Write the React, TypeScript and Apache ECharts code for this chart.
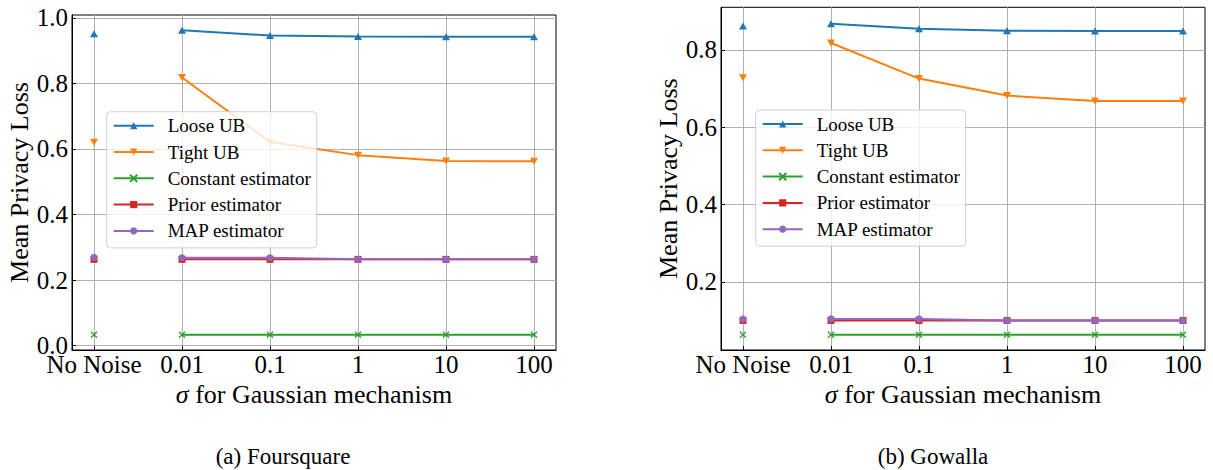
import React, { useEffect, useRef } from "react";
import * as echarts from "echarts";

const categories = ["No Noise", "0.01", "0.1", "1", "10", "100"];
const seriesNames = ["Loose UB", "Tight UB", "Constant estimator", "Prior estimator", "MAP estimator"];

// (a) Foursquare
const fsLoose = [0.951, 0.962, 0.946, 0.943, 0.942, 0.942];
const fsTight = [0.62, 0.818, 0.621, 0.581, 0.563, 0.562];
const fsConst = [0.033, 0.033, 0.033, 0.033, 0.033, 0.033];
const fsPrior = [0.263, 0.263, 0.263, 0.263, 0.263, 0.263];
const fsMap = [0.269, 0.268, 0.268, 0.263, 0.263, 0.263];

// (b) Gowalla
const gwLoose = [0.862, 0.868, 0.855, 0.85, 0.849, 0.849];
const gwTight = [0.728, 0.818, 0.726, 0.682, 0.668, 0.668];
const gwConst = [0.063, 0.063, 0.063, 0.063, 0.063, 0.063];
const gwPrior = [0.1, 0.1, 0.1, 0.1, 0.1, 0.1];
const gwMap = [0.1035, 0.104, 0.104, 0.1, 0.1, 0.1];

const fsYTicks = [0, 0.2, 0.4, 0.6, 0.8, 1.0];
const gwYTicks = [0.2, 0.4, 0.6, 0.8];

const captions = ["(a) Foursquare", "(b) Gowalla"];

const colors = ["#1f77b4", "#ff7f0e", "#2ca02c", "#d62728", "#9467bd"];
const FONT = "Liberation Serif";

function toData(vals: number[]) {
  const out: any[] = [];
  vals.forEach((v, i) => {
    out.push([i, v]);
    if (i === 0) out.push([0.5, "-"]);
  });
  return out;
}

const markers: any[] = [
  { symbol: "triangle", symbolSize: [8, 7], symbolRotate: 0 },
  { symbol: "triangle", symbolSize: [8, 7], symbolRotate: 180 },
  { symbol: "path://M0,0L10,10M10,0L0,10", symbolSize: 6, symbolRotate: 0 },
  { symbol: "rect", symbolSize: 7, symbolRotate: 0 },
  { symbol: "circle", symbolSize: 7, symbolRotate: 0 },
];

function makeSeries(g: number, sets: number[][]) {
  return sets.map((vals, k) => ({
    type: "line",
    name: seriesNames[k],
    xAxisIndex: g,
    yAxisIndex: g,
    data: toData(vals),
    connectNulls: false,
    showAllSymbol: true,
    symbol: markers[k].symbol,
    symbolSize: markers[k].symbolSize,
    symbolRotate: markers[k].symbolRotate,
    lineStyle: { color: colors[k], width: 2 },
    itemStyle:
      k === 2
        ? { color: colors[k], borderColor: colors[k], borderWidth: 1.3 }
        : { color: colors[k] },
    emphasis: { disabled: true },
    z: 2 + k,
  }));
}

function xAxis(g: number) {
  const ticks = categories.map((_, i) => i);
  return {
    type: "value",
    gridIndex: g,
    min: -0.25,
    max: 5.25,
    axisLine: { show: true, onZero: false, lineStyle: { color: "#000", width: 1 } },
    axisTick: { show: true, inside: true, length: 4, customValues: ticks, lineStyle: { color: "#000" } },
    axisLabel: {
      customValues: ticks,
      formatter: (v: number) => categories[Math.round(v)],
      fontFamily: FONT,
      fontSize: 25,
      color: "#000",
      margin: 2,
    },
    splitLine: { show: true, lineStyle: { color: "#b0b0b0", width: 1 } },
    name: "{i|σ} for Gaussian mechanism",
    nameLocation: "middle",
    nameGap: 28,
    nameTextStyle: {
      fontFamily: FONT,
      fontSize: 26,
      color: "#000",
      rich: { i: { fontStyle: "italic", fontFamily: FONT, fontSize: 26, color: "#000" } },
    },
  };
}

function yAxis(g: number, min: number, max: number, ticks: number[]) {
  return {
    type: "value",
    gridIndex: g,
    min,
    max,
    axisLine: { show: true, onZero: false, lineStyle: { color: "#000", width: 1 } },
    axisTick: { show: true, inside: true, length: 4, customValues: ticks, lineStyle: { color: "#000" } },
    axisLabel: {
      customValues: ticks,
      formatter: (v: number) => v.toFixed(1),
      fontFamily: FONT,
      fontSize: 25,
      color: "#000",
      margin: 4,
    },
    splitLine: { show: true, lineStyle: { color: "#b0b0b0", width: 1 } },
    name: "Mean Privacy Loss",
    nameLocation: "middle",
    nameGap: 38,
    nameTextStyle: { fontFamily: FONT, fontSize: 26, color: "#000" },
  };
}

function legend(left: number, top: number) {
  return {
    orient: "vertical",
    left,
    top,
    padding: [4, 6, 7, 6],
    itemGap: 6.3,
    itemWidth: 40,
    itemHeight: 9,
    backgroundColor: "rgba(255,255,255,0.8)",
    borderColor: "#d0d0d0",
    borderWidth: 1,
    borderRadius: 4,
    selectedMode: false,
    textStyle: { fontFamily: FONT, fontSize: 19, color: "#000", lineHeight: 20, padding: [0, 0, 0, 9] },
    data: seriesNames,
  };
}

export default function App() {
  const ref = useRef<HTMLDivElement>(null);
  useEffect(() => {
    if (!ref.current) return;
    const chart = echarts.init(ref.current, null, { renderer: "svg" });
    chart.setOption({
      animation: false,
      backgroundColor: "#fff",
      grid: [
        { left: 72, top: 15, width: 484, height: 335, show: true, borderColor: "#000", borderWidth: 1, containLabel: false },
        { left: 721, top: 7.3, width: 484, height: 342.7, show: true, borderColor: "#000", borderWidth: 1, containLabel: false },
      ],
      xAxis: [xAxis(0), xAxis(1)],
      yAxis: [yAxis(0, -0.0135, 1.0085, fsYTicks), yAxis(1, 0.0235, 0.9105, gwYTicks)],
      legend: [legend(106.7, 111.7), legend(755.7, 110)],
      series: [
        ...makeSeries(0, [fsLoose, fsTight, fsConst, fsPrior, fsMap]),
        ...makeSeries(1, [gwLoose, gwTight, gwConst, gwPrior, gwMap]),
      ],
      graphic: [
        { type: "text", x: 283, y: 456, style: { text: captions[0], fontFamily: FONT, fontSize: 23, fill: "#000", align: "center", verticalAlign: "middle" } },
        { type: "text", x: 933, y: 456, style: { text: captions[1], fontFamily: FONT, fontSize: 23, fill: "#000", align: "center", verticalAlign: "middle" } },
      ],
    });
    return () => chart.dispose();
  }, []);
  return <div ref={ref} style={{ position: "absolute", left: 0, top: 0, width: 1213, height: 470 }} />;
}
